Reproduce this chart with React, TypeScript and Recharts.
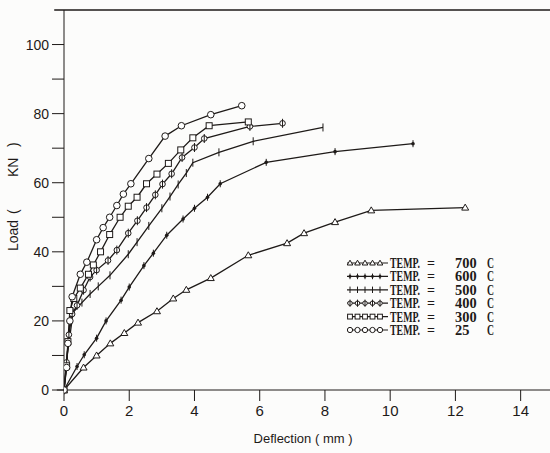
import { LineChart, Line, XAxis, YAxis, ReferenceLine } from "recharts";

// deflection (mm), load (kN) pairs
const temp700: [number, number][] = [
  [0, 0], [0.6, 6.5], [1.0, 10], [1.42, 13.5], [1.85, 16.5], [2.27, 19.5], [2.85, 22.8],
  [3.35, 26.5], [3.75, 29], [4.5, 32.4], [5.65, 39], [6.84, 42.5], [7.36, 45.4],
  [8.31, 48.6], [9.42, 52], [12.3, 52.8],
];
const temp600: [number, number][] = [
  [0, 0], [0.4, 6.8], [0.62, 10.2], [1.0, 15], [1.29, 20], [1.75, 26], [2.0, 29.8],
  [2.45, 36], [2.74, 39.6], [3.15, 44.8], [3.65, 49.5], [4.0, 52.6], [4.4, 55.8],
  [4.79, 59.7], [6.2, 65.9], [8.31, 69], [10.7, 71.3],
];
const temp500: [number, number][] = [
  [0, 0], [0.1, 10], [0.28, 22.5], [0.55, 25.3], [0.8, 27.8], [1.05, 30], [1.41, 33.2],
  [1.97, 39.3], [2.24, 42.8], [2.6, 47.5], [3.0, 52.6], [3.25, 56], [3.5, 59.5],
  [3.75, 62.8], [3.95, 65.8], [4.75, 68.8], [5.8, 72], [7.94, 76],
];
const temp400: [number, number][] = [
  [0, 0], [0.08, 8], [0.15, 16], [0.25, 22], [0.4, 24.5], [0.6, 28.9], [0.8, 32.7],
  [1.0, 34.7], [1.35, 37.5], [1.62, 40.5], [1.97, 45.4], [2.25, 49], [2.53, 52.8],
  [2.8, 56.5], [3.02, 59.6], [3.3, 62.6], [3.62, 67.3], [4.0, 70.2], [4.3, 72.8],
  [5.7, 76.3], [6.7, 77.2],
];
const temp300: [number, number][] = [
  [0, 0], [0.08, 7], [0.12, 14], [0.18, 23], [0.3, 26.5], [0.5, 29.5], [0.75, 33.5],
  [0.9, 36.2], [1.12, 40], [1.4, 45], [1.72, 50], [1.97, 53.2], [2.24, 55.8],
  [2.53, 59.7], [2.85, 62.5], [3.2, 65.6], [3.58, 69.5], [3.95, 73], [4.45, 76.5],
  [5.65, 77.6],
];
const temp25: [number, number][] = [
  [0, 0], [0.08, 6.5], [0.12, 13.5], [0.18, 20], [0.25, 27], [0.5, 33.5], [0.7, 37],
  [1.0, 43.5], [1.2, 47], [1.4, 50], [1.62, 53.4], [1.82, 56.7], [2.05, 59.7],
  [2.6, 67], [3.1, 73.5], [3.6, 76.5], [4.5, 79.7], [5.45, 82.3],
];

const legendTemps = ["700", "600", "500", "400", "300", "25"];
const xTicks = [0, 2, 4, 6, 8, 10, 12, 14];
const yTicks = [0, 10, 20, 30, 40, 50, 60, 70, 80, 90, 100];

const INK = "#1e1a18";

type Kind = "tri" | "dotTick" | "tick" | "phi" | "square" | "circle";

const series: { name: string; kind: Kind; pts: [number, number][] }[] = [
  { name: "700", kind: "tri", pts: temp700 },
  { name: "600", kind: "dotTick", pts: temp600 },
  { name: "500", kind: "tick", pts: temp500 },
  { name: "400", kind: "phi", pts: temp400 },
  { name: "300", kind: "square", pts: temp300 },
  { name: "25", kind: "circle", pts: temp25 },
];

function marker(kind: Kind, cx: number, cy: number, key?: string, k = 1) {
  const s = { stroke: INK, strokeWidth: 1, fill: "#fff" };
  switch (kind) {
    case "tri":
      return <path key={key} d={`M${cx},${cy - 3.5 * k}L${cx + 3.5 * k},${cy + 2.5 * k}L${cx - 3.5 * k},${cy + 2.5 * k}Z`} {...s} />;
    case "dotTick":
      return (
        <g key={key}>
          <line x1={cx} y1={cy - 3.5 * k} x2={cx} y2={cy + 3.5 * k} stroke={INK} strokeWidth={1} />
          <circle cx={cx} cy={cy} r={1.8 * k} fill={INK} />
        </g>
      );
    case "tick":
      return <line key={key} x1={cx} y1={cy - 4 * k} x2={cx} y2={cy + 4 * k} stroke={INK} strokeWidth={1} />;
    case "phi":
      return (
        <g key={key}>
          <circle cx={cx} cy={cy} r={2.8 * k} {...s} />
          <line x1={cx} y1={cy - 4.5 * k} x2={cx} y2={cy + 4.5 * k} stroke={INK} strokeWidth={1} />
        </g>
      );
    case "square":
      return <rect key={key} x={cx - 3 * k} y={cy - 3 * k} width={6 * k} height={6 * k} {...s} />;
    default:
      return <circle key={key} cx={cx} cy={cy} r={3.3 * k} {...s} />;
  }
}

const makeDot = (kind: Kind) => (p: any) => {
  if (p.cx == null || p.cy == null) return <g key={`${kind}-${p.index}`} />;
  return marker(kind, p.cx, p.cy, `${kind}-${p.index}`);
};

// legend sits inside the plot, lower right, drawn as its own svg
function TempLegend() {
  return (
    <svg
      width={160}
      height={84}
      style={{ position: "absolute", left: 340, top: 254, display: "block" }}
    >
      {series.map((s, i) => {
        const cy = 9 + i * 13.4;
        return (
          <g key={s.name}>
            <line x1={7} y1={cy} x2={48} y2={cy} stroke={INK} strokeWidth={1.2} />
            {[10, 17.5, 25, 32.5, 40].map((mx) => marker(s.kind, mx, cy, `${s.name}-${mx}`, 0.8))}
            <text
              y={cy + 5}
              fontFamily="'Liberation Serif', 'DejaVu Serif', serif"
              fontWeight={700}
              fontSize={14}
              fill={INK}
            >
              <tspan x={50} textLength={30} lengthAdjust="spacingAndGlyphs">TEMP.</tspan>
              <tspan x={87}>=</tspan>
              <tspan x={115} textLength={legendTemps[i].length * 7.2} lengthAdjust="spacingAndGlyphs">
                {legendTemps[i]}
              </tspan>
              <tspan x={147} textLength={7} lengthAdjust="spacingAndGlyphs">C</tspan>
            </text>
          </g>
        );
      })}
    </svg>
  );
}

const fmtY = (v: number) => (v % 20 === 0 ? String(v) : "");

// y title: the scan spaces "Load", "(", "KN", ")" unevenly
const YTitle = () => (
  <g transform="translate(13,0) rotate(-90)">
    <text
      y={5}
      fill={INK}
      fontSize={14}
      fontFamily="'Liberation Sans', Arial, sans-serif"
    >
      <tspan x={-251}>Load</tspan>
      <tspan x={-214}>(</tspan>
      <tspan x={-177}>KN</tspan>
      <tspan x={-147}>)</tspan>
    </text>
  </g>
);

export default function App() {
  return (
    <div style={{ position: "absolute", left: 0, top: 0, width: 550, height: 453, background: "#fcfcfb" }}>
      <LineChart width={550} height={453} margin={{ top: 10, right: 0, bottom: 0, left: 0 }}>
        <XAxis
          type="number"
          dataKey="x"
          domain={[0, 14.9]}
          ticks={xTicks}
          allowDataOverflow
          height={63}
          tickSize={11}
          tickMargin={4}
          stroke={INK}
          tick={{ fill: INK, fontSize: 15, fontFamily: "'Liberation Sans Narrow', 'Liberation Sans', Arial, sans-serif" }}
          label={{
            value: "Deflection ( mm )",
            position: "insideBottom",
            offset: 10,
            dx: -4,
            fill: INK,
            fontSize: 13,
            fontFamily: "'Liberation Sans', Arial, sans-serif",
          }}
        />
        <YAxis
          type="number"
          domain={[0, 110]}
          ticks={yTicks}
          interval={0}
          width={64}
          tickSize={12}
          tickMargin={3}
          stroke={INK}
          tickFormatter={fmtY}
          tick={{ fill: INK, fontSize: 14, fontFamily: "'Liberation Sans Narrow', 'Liberation Sans', Arial, sans-serif" }}
          label={{ content: YTitle }}
        />
        <ReferenceLine
          segment={[{ x: -0.3, y: 110 }, { x: 14.9, y: 110 }]}
          stroke={INK}
          strokeWidth={1.5}
          ifOverflow="visible"
        />
        <ReferenceLine
          segment={[{ x: -0.22, y: 0 }, { x: 0, y: 0 }]}
          stroke={INK}
          ifOverflow="visible"
        />
        {series.map((s) => (
          <Line
            key={s.name}
            name={s.name}
            data={s.pts.map(([x, y]) => ({ x, y }))}
            dataKey="y"
            type="linear"
            stroke={INK}
            strokeWidth={1.3}
            dot={makeDot(s.kind)}
            activeDot={false}
            isAnimationActive={false}
          />
        ))}
      </LineChart>
      <TempLegend />
    </div>
  );
}
